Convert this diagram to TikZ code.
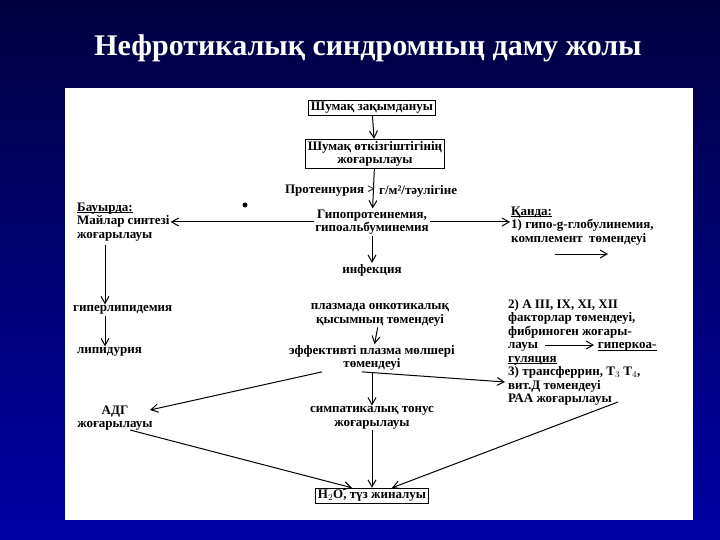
\documentclass[tikz,border=0pt]{standalone}
\usepackage{fontspec}
\setmainfont{Liberation Serif}
\usetikzlibrary{arrows.meta}
\newcommand{\ulx}[1]{\setbox0\hbox{#1}\rlap{\rule[-1.6pt]{\wd0}{0.6pt}}\box0}
\begin{document}
\begin{tikzpicture}[x=1pt,y=-1pt,
  t/.style={font=\bfseries\fontsize{13}{13.5}\selectfont,align=center,inner sep=1pt},
  tl/.style={t,align=left},
  bx/.style={t,draw,line width=1pt,inner sep=2pt},
  ar/.style={-{Straight Barb[length=7pt,width=8pt]},line width=1pt}]
\shade[top color=blue!25!black,bottom color=blue!65!black] (0,0) rectangle (720,540);
\useasboundingbox (0,0) rectangle (720,540);
\fill[white] (65,88) rectangle (693,520);
\node[white,font=\bfseries\fontsize{30}{32}\selectfont] (title) at (368,48) {Нефротикалық синдромның даму жолы};
\node[bx] (a) at (372,108) {Шумақ зақымдануы};
\node[bx,align=center] (b) at (375,154) {Шумақ өткізгіштігінің\\жоғарылауы};
\node[t,anchor=east] (p1) at (376,191) {Протеинурия >};
\node[t,anchor=west] (p2) at (378,191) {г/м²/тәулігіне};
\fill (245,205) circle (2.5pt);
\node[t] (c) at (372,222) {Гипопротеинемия,\\гипоальбуминемия};
\node[t] (inf) at (372,270) {инфекция};
\node[tl,anchor=west] (liv) at (76,222) {\ulx{Бауырда:}\\Майлар синтезі\\жоғарылауы};
\node[tl,anchor=west] (kan) at (510,226) {\ulx{Қанда:}\\1) гипо-g-глобулинемия,\\комплемент\ \ төмендеуі};
\coordinate (k1) at (555,254); \coordinate (k2) at (608,254);
\node[tl,anchor=west] (hl) at (72,310) {гиперлипидемия};
\node[tl,anchor=west] (lip) at (76,352) {липидурия};
\node[t] (pl) at (380,315) {плазмада онкотикалық\\қысымның төмендеуі};
\node[t] (ef) at (372,358) {эффективті плазма мөлшері\\төмендеуі};
\node[tl,anchor=north west] (r) at (507,298) {2) A III, IX, XI, XII\\факторлар төмендеуі,\\фибриноген жоғары-\\лауы\hspace{60pt}\ulx{гиперкоа-}\\\ulx{гуляция}\\3) трансферрин, T$_3$ T$_4$,\\вит.Д төмендеуі\\РАА жоғарылауы};
\coordinate (gk0) at (545,345); \coordinate (gk1) at (594,345);
\node[t] (adg) at (115,418) {АДГ\\жоғарылауы};
\node[t] (sym) at (372,418) {симпатикалық тонус\\жоғарылауы};
\node[bx] (h) at (372,496) {H$_2$O, түз жиналуы};
\draw[ar] (a) -- (b);
\draw[ar] (b) -- (c);
\draw[ar] (c.west) -- (liv.east|-c.west);
\draw[ar] (c.east) -- (kan.west|-c.east);
\draw[ar] (c) -- (inf);
\draw[ar] (k1) -- (k2);
\draw[ar] (105,245) -- (hl.north-|105,0);
\draw[ar] (hl.south-|105,0) -- (lip.north-|105,0);
\draw[ar] (pl) -- (ef);
\draw[ar] (ef) -- (sym);
\draw[ar] (ef.south) ++(-50,0) -- (150,410);
\draw[ar] (ef.south) ++(-10,0) -- (505,382);
\draw[ar] (gk0) -- (gk1);
\draw[ar] (sym) -- (h);
\draw[ar] (130,430) -- ([xshift=-20pt]h.north);
\draw[ar] (618,402) -- ([xshift=20pt]h.north);
\end{tikzpicture}
\end{document}
